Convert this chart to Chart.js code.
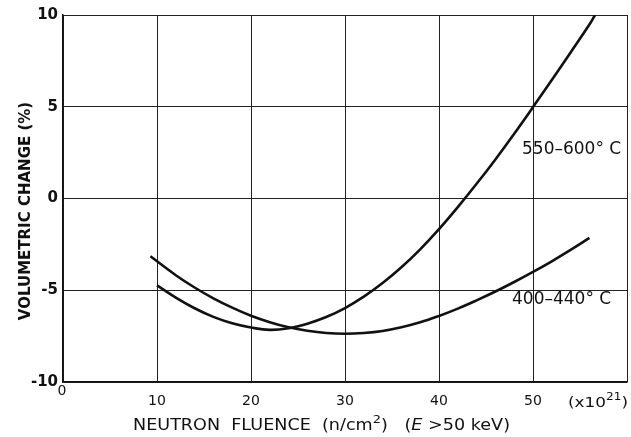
<!DOCTYPE html>
<html>
<head>
<meta charset="utf-8">
<script src="https://cdn.jsdelivr.net/npm/chart.js@4.4.0/dist/chart.umd.min.js"></script>
<style>
  body { margin: 0; background: #fff; }
  canvas { display: block; }
</style>
</head>
<body>
<canvas id="swelling-chart" width="631" height="437"></canvas>
<script>
/* data: fluence in units of 10^21 n/cm2, change in % */
const fluenceLow = [9.3, 12, 14, 16, 18, 20, 22, 24, 26, 28, 30, 32, 34, 36, 38, 40, 42, 44, 46, 48, 50, 52, 54, 56];
const changeLow = [-3.15, -4.18, -4.85, -5.44, -5.95, -6.39, -6.74, -7.02, -7.21, -7.33, -7.37, -7.33, -7.22, -7.02, -6.75, -6.4, -6.0, -5.55, -5.07, -4.55, -4.0, -3.42, -2.8, -2.15];

const fluenceHigh = [10, 12, 14, 16, 18, 20, 22, 24, 26, 28, 30, 32, 34, 36, 38, 40, 42, 44, 46, 48, 50, 52, 54, 56, 56.6];
const changeHigh = [-4.73, -5.4, -5.98, -6.45, -6.8, -7.03, -7.16, -7.07, -6.82, -6.46, -5.97, -5.35, -4.61, -3.75, -2.77, -1.67, -0.47, 0.8, 2.13, 3.53, 4.98, 6.46, 7.96, 9.48, 10];

const xTicks = [0, 10, 20, 30, 40, 50, 60];
const yTicks = [-10, -5, 0, 5, 10];

const FONT = 'DejaVu Sans';
const INK = '#111';

function toPoints(xs, ys) {
    return xs.map((x, i) => ({ x: x, y: ys[i] }));
}

/* draw a run of text pieces (some raised / italic) squeezed between x0 and x1 */
function drawRun(c, pieces, x0, x1, y, size) {
    let total = 0;
    pieces.forEach(p => {
        c.font = (p.italic ? 'italic ' : '') + (p.sup ? Math.round(size * 0.7) : size) + 'px ' + FONT;
        p.w = c.measureText(p.t).width;
        total += p.w;
    });
    c.save();
    c.translate(x0, y);
    c.scale((x1 - x0) / total, 1);
    let x = 0;
    pieces.forEach(p => {
        c.font = (p.italic ? 'italic ' : '') + (p.sup ? Math.round(size * 0.7) : size) + 'px ' + FONT;
        c.fillText(p.t, x, p.sup ? -size * 0.5 : 0);
        x += p.w;
    });
    c.restore();
}

/* texts that Chart.js can't place the way the drawing has them */
const extraText = {
    id: 'extraText',
    afterDraw(chart) {
        const c = chart.ctx;
        c.save();
        c.fillStyle = INK;
        c.textBaseline = 'alphabetic';
        c.textAlign = 'left';

        // y title
        c.save();
        c.translate(30, 211);
        c.rotate(-Math.PI / 2);
        c.textAlign = 'center';
        c.font = 'bold 15px ' + FONT;
        c.fillText('VOLUMETRIC CHANGE (%)', 0, 0, 222);
        c.restore();

        // origin label sits higher than the others
        c.font = '14px ' + FONT;
        c.textAlign = 'center';
        c.fillText('0', 62, 395);
        c.textAlign = 'left';

        // x title
        drawRun(c, [
            { t: 'NEUTRON  FLUENCE  (n/cm' },
            { t: '2', sup: true },
            { t: ')   (' },
            { t: 'E', italic: true },
            { t: ' >50 keV)' }
        ], 133, 510, 430, 15);

        // multiplier
        drawRun(c, [
            { t: '(x10' },
            { t: '21', sup: true },
            { t: ')' }
        ], 568, 628, 407, 14);

        // curve labels
        c.font = '17px ' + FONT;
        c.fillText('550\u2013600\u00b0 C', 522, 154, 101);
        c.fillText('400\u2013440\u00b0 C', 512, 304, 106);

        c.restore();
    }
};

let ctx = document.querySelector('#swelling-chart').getContext('2d');

let chart = new Chart(ctx, {
    type: 'scatter',
    data: {
        datasets: [{
            label: '550-600 C',
            data: toPoints(fluenceHigh, changeHigh),
            showLine: true,
            borderColor: INK,
            borderWidth: 2.6,
            pointRadius: 0,
            tension: 0.4
        }, {
            label: '400-440 C',
            data: toPoints(fluenceLow, changeLow),
            showLine: true,
            borderColor: INK,
            borderWidth: 2.6,
            pointRadius: 0,
            tension: 0.4
        }]
    },
    options: {
        responsive: false,
        animation: false,
        layout: { padding: { top: 15, right: 4, left: 0, bottom: 0 } },
        plugins: {
            legend: { display: false },
            tooltip: { enabled: false }
        },
        scales: {
            x: {
                type: 'linear',
                min: 0,
                max: 60,
                afterBuildTicks: (s) => { s.ticks = xTicks.map(v => ({ value: v })); },
                afterFit: (s) => { s.height = 55; s.paddingLeft = 0; s.paddingRight = 0; },
                ticks: {
                    color: INK,
                    padding: 11,
                    font: { family: FONT, size: 14 },
                    callback: (v) => (v === 0 || v === 60) ? '' : v
                },
                grid: { color: '#222', lineWidth: 1, drawTicks: false },
                border: { color: INK, width: 1.5 }
            },
            y: {
                min: -10,
                max: 10,
                afterBuildTicks: (s) => { s.ticks = yTicks.map(v => ({ value: v })); },
                afterFit: (s) => { s.width = 63; },
                ticks: {
                    color: INK,
                    padding: 5,
                    font: { family: FONT, size: 15, weight: 'bold' }
                },
                grid: { color: '#222', lineWidth: 1, drawTicks: false },
                border: { color: INK, width: 1.5 }
            }
        }
    },
    plugins: [extraText]
});
</script>
</body>
</html>
